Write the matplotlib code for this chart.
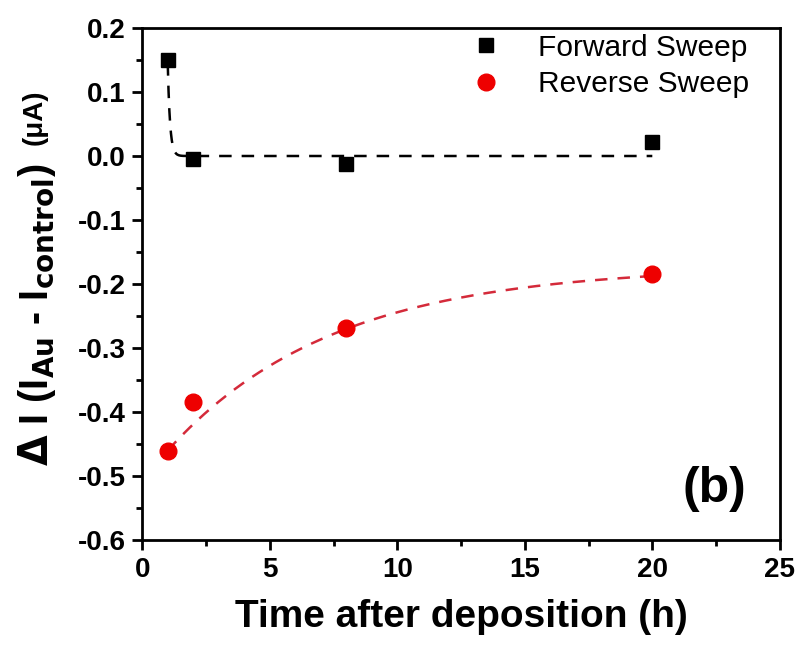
import numpy as np
import matplotlib
matplotlib.use("Agg")
import matplotlib.pyplot as plt
from matplotlib.ticker import MultipleLocator

plt.rcParams['font.family'] = ['Liberation Sans', 'DejaVu Sans']

# Data
time_h = [1, 2, 8, 20]
forward = [0.150, -0.005, -0.012, 0.022]
reverse = [-0.460, -0.385, -0.268, -0.185]

# Exponential fit parameters (y = y0 + A*exp(-(x - x0)/t))
fwd_fit = dict(y0=0.0, A=0.145, x0=1.0, t=0.09)
rev_fit = dict(y0=-0.172, A=-0.288, x0=1.0, t=6.5)

fig = plt.figure(figsize=(7.99, 6.5), dpi=100)
ax = fig.add_axes([0.178, 0.169, 0.798, 0.788])

xf = np.linspace(1, 20, 600)
yf = fwd_fit['y0'] + fwd_fit['A'] * np.exp(-(xf - fwd_fit['x0']) / fwd_fit['t'])
yr = rev_fit['y0'] + rev_fit['A'] * np.exp(-(xf - rev_fit['x0']) / rev_fit['t'])

ax.plot(xf, yf, color='black', lw=1.8, ls=(0, (5, 4)), zorder=2)
ax.plot(xf, yr, color='#d42a3a', lw=1.8, ls=(0, (5, 4)), zorder=2)

ax.plot(time_h, forward, ls='none', marker='s', ms=10.5, color='black',
        label='Forward Sweep', zorder=3)
ax.plot(time_h, reverse, ls='none', marker='o', ms=12, color='#ee0000',
        label='Reverse Sweep', zorder=3)

ax.set_xlim(0, 25)
ax.set_ylim(-0.6, 0.2)
ax.xaxis.set_major_locator(MultipleLocator(5))
ax.xaxis.set_minor_locator(MultipleLocator(2.5))
ax.yaxis.set_minor_locator(MultipleLocator(0.05))
ax.set_yticks(np.arange(-0.6, 0.21, 0.1))
ax.set_yticklabels(['-0.6', '-0.5', '-0.4', '-0.3', '-0.2', '-0.1', '0.0', '0.1', '0.2'])

for s in ax.spines.values():
    s.set_linewidth(2)
ax.tick_params(which='major', direction='out', length=7, width=2,
               labelsize=20, pad=5)
ax.tick_params(which='minor', direction='out', length=4, width=2)
for lab in ax.get_xticklabels() + ax.get_yticklabels():
    lab.set_fontweight('bold')

ax.set_xlabel('Time after deposition (h)', fontsize=28, fontweight='bold', labelpad=12)
ax.set_ylabel(r'$\mathbf{\Delta}$ I (I$_{\mathbf{Au}}$ - I$_{\mathbf{control}}$)',
              fontsize=28.5, fontweight='bold')
ax.yaxis.set_label_coords(-0.132, 0.44)
ax.text(-0.168, 0.826, '(μA)', transform=ax.transAxes, rotation=90,
        fontsize=20, fontweight='bold', ha='center', va='center')

ax.text(0.948, 0.10, '(b)', transform=ax.transAxes, fontsize=36,
        fontweight='bold', ha='right', va='center')

leg = ax.legend(loc='upper right', frameon=False, fontsize=21.5,
                handletextpad=0.75, borderaxespad=0.1, labelspacing=0.28,
                bbox_to_anchor=(0.976, 1.018))

fig.savefig('out.png', dpi=100)
